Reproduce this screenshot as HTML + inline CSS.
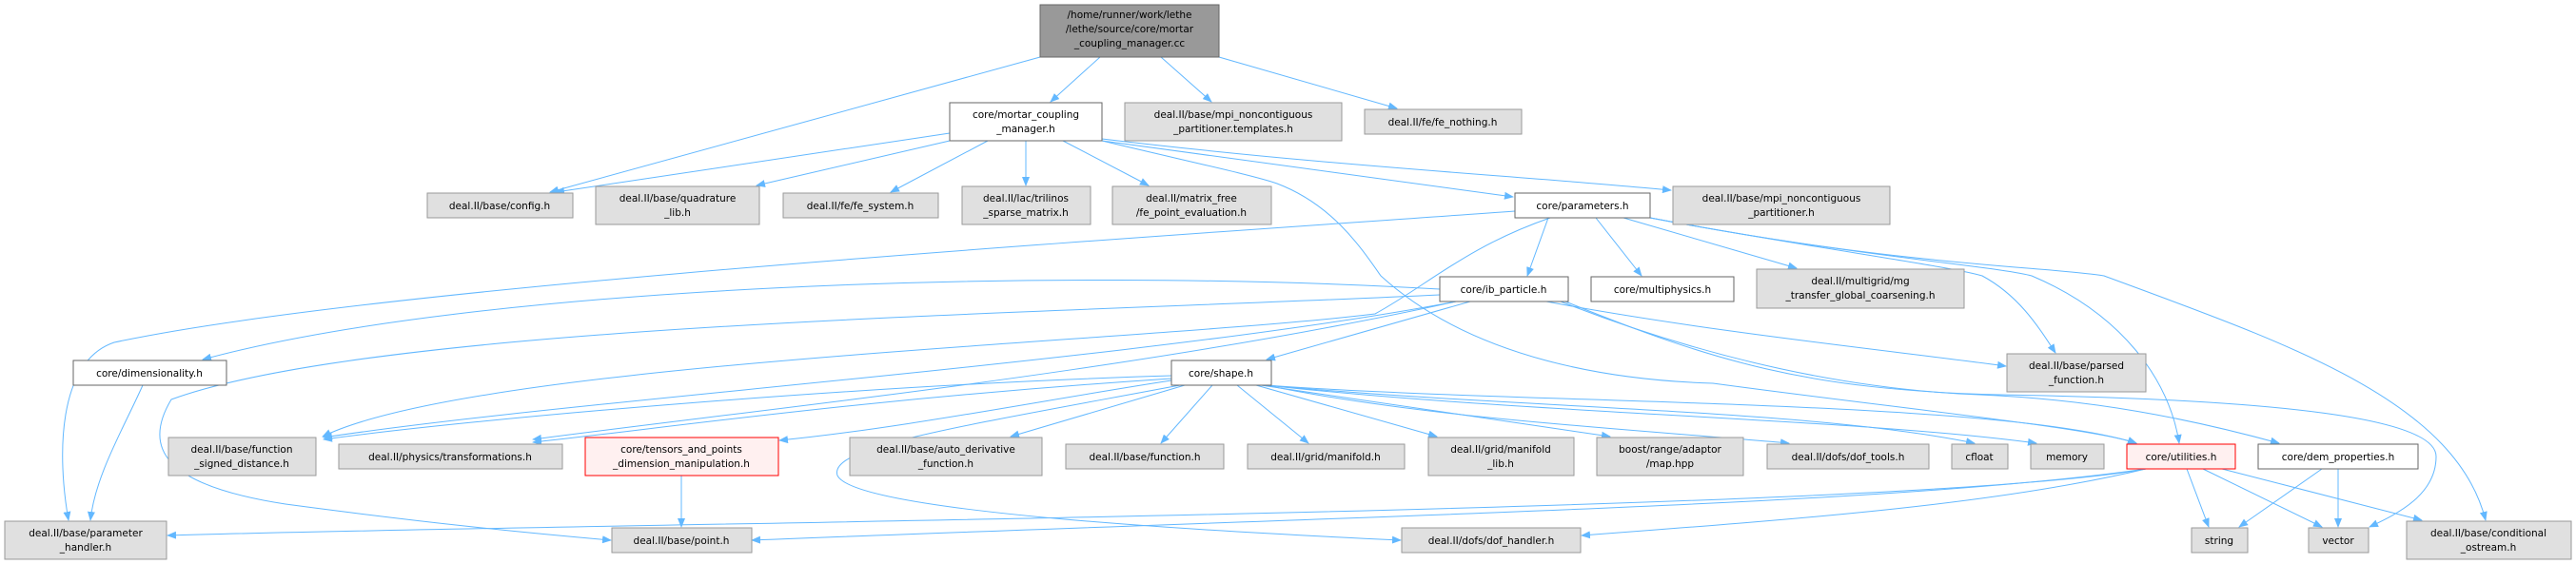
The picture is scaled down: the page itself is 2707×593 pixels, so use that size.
<!DOCTYPE html>
<html><head><meta charset="utf-8"><style>
html,body{margin:0;padding:0;background:#fff;}
svg{display:block;}
text{font-family:"DejaVu Sans","Liberation Sans",sans-serif;font-size:10.5px;fill:#000;text-anchor:middle;}
.g{fill:#e0e0e0;stroke:#999;stroke-width:1}
.w{fill:#fff;stroke:#666;stroke-width:1}
.r{fill:#fff0f0;stroke:#f00;stroke-width:1}
.e{fill:none;stroke:#63b8ff;stroke-width:1}
</style></head><body>
<svg width="2707" height="593" viewBox="0 0 2707 593" xmlns="http://www.w3.org/2000/svg">
<defs><marker id="a" markerWidth="10" markerHeight="8" refX="9" refY="4" orient="auto" markerUnits="userSpaceOnUse"><path d="M0,0 L10,4 L0,8 z" fill="#63b8ff"/></marker></defs>
<g class="e" marker-end="url(#a)">
<path d="M1093,60 L578,202"/>
<path d="M1156,60 L1104,107"/>
<path d="M1220,60 L1273,107"/>
<path d="M1281,60 L1468,114"/>
<path d="M998,140 L584,202"/>
<path d="M998,148 L795,195"/>
<path d="M1038,148 L936,202"/>
<path d="M1078,148 L1078,195"/>
<path d="M1117,148 L1207,195"/>
<path d="M1158,148 L1590,207"/>
<path d="M1158,146 C1400,175 1600,185 1756,200"/>
<path d="M1158,148 C1250,170 1320,185 1342,193 C1400,215 1430,260 1451,290 C1550,380 1700,400 1800,403 C2000,430 2200,450 2245,466"/>
<path d="M1592,222 C1200,250 400,300 120,360 C60,380 60,480 72,547"/>
<path d="M1627,229 L1605,290"/>
<path d="M1677,229 L1725,290"/>
<path d="M1706,229 L1888,282"/>
<path d="M1734,229 C1900,260 2050,280 2083,290 C2120,310 2140,340 2160,371"/>
<path d="M1734,229 C1950,270 2100,280 2135,290 C2230,330 2280,400 2290,466"/>
<path d="M1734,229 C2000,280 2150,280 2211,290 C2400,360 2580,420 2612,547"/>
<path d="M1629,229 C1540,260 1500,300 1445,330 C1200,360 500,380 339,459"/>
<path d="M1513,304 C1100,280 500,300 213,378"/>
<path d="M1513,310 C1100,330 400,340 180,420 C150,470 170,510 300,530 C450,550 550,560 642,568"/>
<path d="M1530,317 C1200,380 600,420 340,460"/>
<path d="M1530,317 C1200,390 800,430 560,462"/>
<path d="M1545,317 L1331,378"/>
<path d="M1625,317 C1800,350 2000,370 2108,385"/>
<path d="M1640,317 C1800,380 1950,410 2080,415 C2200,420 2300,440 2395,466"/>
<path d="M1645,317 C1800,380 1900,410 2100,415 C2400,420 2560,440 2560,480 C2560,520 2520,540 2490,554"/>
<path d="M1231,395 C900,405 500,440 340,462"/>
<path d="M1231,398 C900,420 700,450 560,465"/>
<path d="M1231,400 C1100,420 950,450 819,463"/>
<path d="M1240,405 C1000,450 870,470 880,500 C900,540 1300,560 1472,568"/>
<path d="M1245,405 L1062,459"/>
<path d="M1274,405 L1220,466"/>
<path d="M1300,405 L1375,466"/>
<path d="M1320,405 L1510,459"/>
<path d="M1325,405 L1692,459"/>
<path d="M1330,405 C1500,440 1700,450 1880,466"/>
<path d="M1330,405 C1600,430 1900,430 2075,466"/>
<path d="M1330,405 C1600,435 1950,440 2140,466"/>
<path d="M1330,405 C1600,425 2100,420 2245,466"/>
<path d="M716,500 L716,554"/>
<path d="M150,405 C130,450 100,500 95,547"/>
<path d="M2255,493 C2000,540 600,550 176,563"/>
<path d="M2255,493 C2000,530 1500,540 790,568"/>
<path d="M2255,493 C2100,530 1900,545 1662,563"/>
<path d="M2298,493 L2321,554"/>
<path d="M2315,493 L2440,554"/>
<path d="M2335,493 L2545,547"/>
<path d="M2440,493 L2353,554"/>
<path d="M2457,493 L2457,554"/>
</g>
<rect class="g" x="1093" y="5" width="188" height="55" style="fill:#999;stroke:#666"/>
<text x="1187" y="19">/home/runner/work/lethe</text><text x="1187" y="34">/lethe/source/core/mortar</text><text x="1187" y="49">_coupling_manager.cc</text>
<rect class="w" x="998" y="108" width="160" height="40"/><text x="1078" y="124">core/mortar_coupling</text><text x="1078" y="139">_manager.h</text>
<rect class="g" x="1182" y="108" width="228" height="40"/><text x="1296" y="124">deal.II/base/mpi_noncontiguous</text><text x="1296" y="139">_partitioner.templates.h</text>
<rect class="g" x="1434" y="115" width="165" height="26"/><text x="1516" y="132">deal.II/fe/fe_nothing.h</text>
<rect class="g" x="449" y="203" width="153" height="26"/><text x="525" y="220">deal.II/base/config.h</text>
<rect class="g" x="626" y="196" width="172" height="40"/><text x="712" y="212">deal.II/base/quadrature</text><text x="712" y="227">_lib.h</text>
<rect class="g" x="823" y="203" width="163" height="26"/><text x="904" y="220">deal.II/fe/fe_system.h</text>
<rect class="g" x="1011" y="196" width="135" height="40"/><text x="1078" y="212">deal.II/lac/trilinos</text><text x="1078" y="227">_sparse_matrix.h</text>
<rect class="g" x="1169" y="196" width="167" height="40"/><text x="1252" y="212">deal.II/matrix_free</text><text x="1252" y="227">/fe_point_evaluation.h</text>
<rect class="w" x="1592" y="203" width="142" height="26"/><text x="1663" y="220">core/parameters.h</text>
<rect class="g" x="1758" y="196" width="228" height="40"/><text x="1872" y="212">deal.II/base/mpi_noncontiguous</text><text x="1872" y="227">_partitioner.h</text>
<rect class="w" x="1513" y="291" width="135" height="26"/><text x="1580" y="308">core/ib_particle.h</text>
<rect class="w" x="1672" y="291" width="150" height="26"/><text x="1747" y="308">core/multiphysics.h</text>
<rect class="g" x="1846" y="283" width="218" height="41"/><text x="1955" y="299">deal.II/multigrid/mg</text><text x="1955" y="314">_transfer_global_coarsening.h</text>
<rect class="w" x="77" y="379" width="161" height="26"/><text x="157" y="396">core/dimensionality.h</text>
<rect class="w" x="1231" y="379" width="105" height="26"/><text x="1283" y="396">core/shape.h</text>
<rect class="g" x="2109" y="372" width="146" height="40"/><text x="2182" y="388">deal.II/base/parsed</text><text x="2182" y="403">_function.h</text>
<rect class="g" x="177" y="460" width="155" height="40"/><text x="254" y="476">deal.II/base/function</text><text x="254" y="491">_signed_distance.h</text>
<rect class="g" x="356" y="467" width="235" height="26"/><text x="473" y="484">deal.II/physics/transformations.h</text>
<rect class="r" x="615" y="460" width="203" height="40"/><text x="716" y="476">core/tensors_and_points</text><text x="716" y="491">_dimension_manipulation.h</text>
<rect class="g" x="893" y="460" width="202" height="40"/><text x="994" y="476">deal.II/base/auto_derivative</text><text x="994" y="491">_function.h</text>
<rect class="g" x="1120" y="467" width="166" height="26"/><text x="1203" y="484">deal.II/base/function.h</text>
<rect class="g" x="1311" y="467" width="165" height="26"/><text x="1393" y="484">deal.II/grid/manifold.h</text>
<rect class="g" x="1501" y="460" width="153" height="40"/><text x="1577" y="476">deal.II/grid/manifold</text><text x="1577" y="491">_lib.h</text>
<rect class="g" x="1678" y="460" width="154" height="40"/><text x="1755" y="476">boost/range/adaptor</text><text x="1755" y="491">/map.hpp</text>
<rect class="g" x="1857" y="467" width="170" height="26"/><text x="1942" y="484">deal.II/dofs/dof_tools.h</text>
<rect class="g" x="2051" y="467" width="59" height="26"/><text x="2080" y="484">cfloat</text>
<rect class="g" x="2134" y="467" width="77" height="26"/><text x="2172" y="484">memory</text>
<rect class="r" x="2235" y="467" width="114" height="26"/><text x="2292" y="484">core/utilities.h</text>
<rect class="w" x="2373" y="467" width="168" height="26"/><text x="2457" y="484">core/dem_properties.h</text>
<rect class="g" x="5" y="548" width="170" height="40"/><text x="90" y="564">deal.II/base/parameter</text><text x="90" y="579">_handler.h</text>
<rect class="g" x="643" y="555" width="147" height="26"/><text x="716" y="572">deal.II/base/point.h</text>
<rect class="g" x="1473" y="555" width="188" height="26"/><text x="1567" y="572">deal.II/dofs/dof_handler.h</text>
<rect class="g" x="2303" y="555" width="59" height="26"/><text x="2332" y="572">string</text>
<rect class="g" x="2426" y="555" width="63" height="26"/><text x="2457" y="572">vector</text>
<rect class="g" x="2529" y="548" width="173" height="40"/><text x="2615" y="564">deal.II/base/conditional</text><text x="2615" y="579">_ostream.h</text>
</svg>
</body></html>
